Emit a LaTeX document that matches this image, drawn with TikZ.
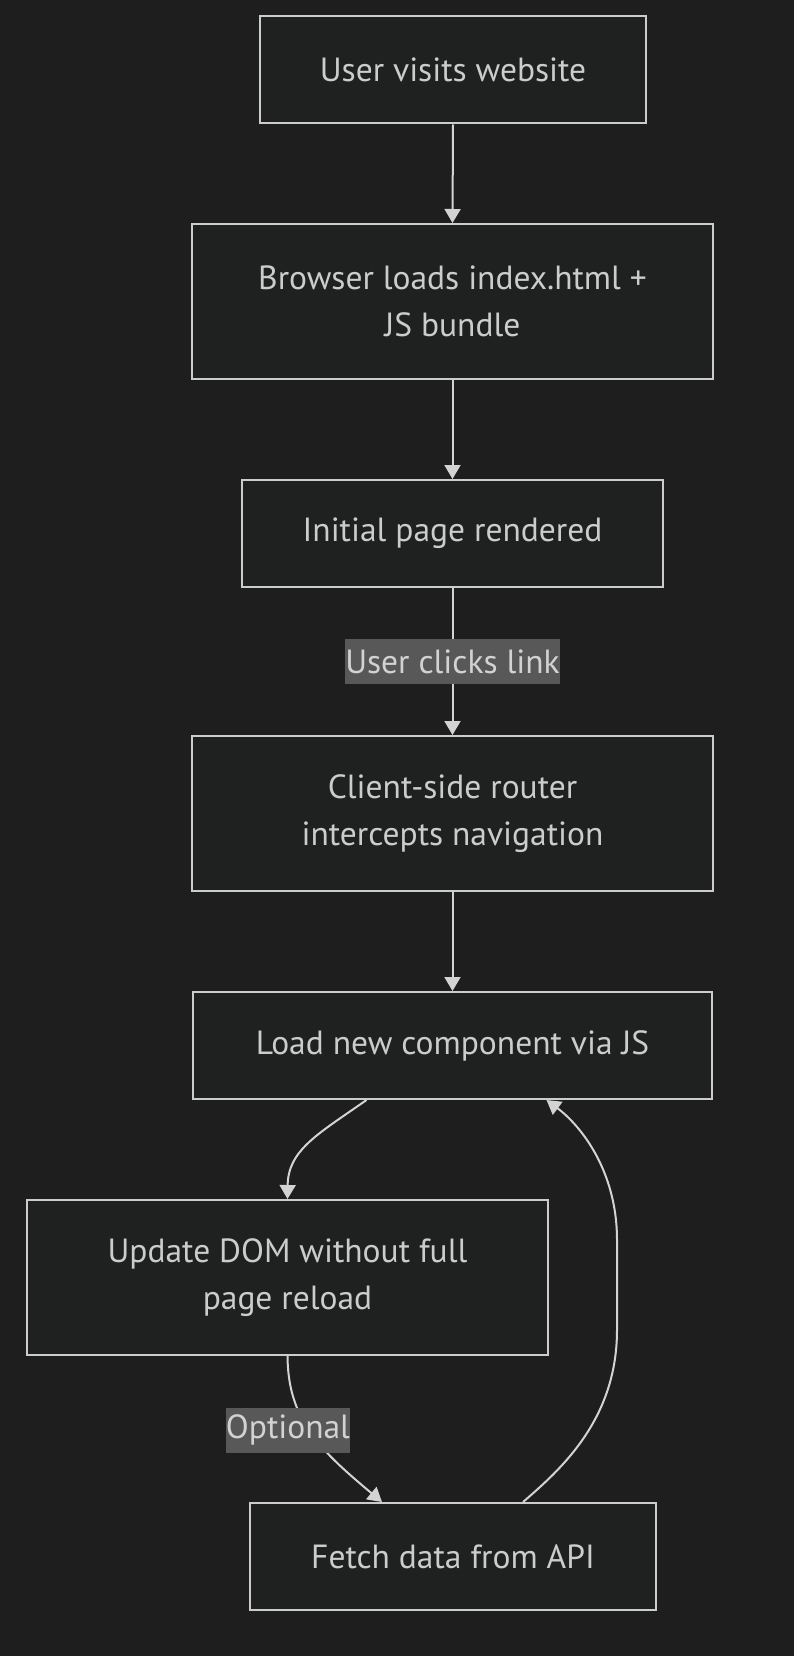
\documentclass[tikz,border=0pt]{standalone}
\usepackage{fontspec}
\setmainfont{PT Sans}
\usetikzlibrary{arrows.meta,positioning,calc}
\definecolor{canvas}{RGB}{30,30,30}
\definecolor{boxfill}{RGB}{31,32,32}
\definecolor{boxline}{RGB}{204,204,204}
\definecolor{edgeline}{RGB}{211,211,211}
\definecolor{labelbg}{RGB}{88,88,88}
\definecolor{labeltext}{RGB}{210,210,210}

\begin{document}
\begin{tikzpicture}[x=1pt, y=-1pt,
  stepbox/.style={draw=boxline, line width=2pt, fill=boxfill, text=boxline,
    align=center, minimum height=107pt, inner sep=0pt,
    font=\fontsize{33.5}{47.5}\selectfont},
  tallbox/.style={stepbox, minimum height=155pt},
  edgelabel/.style={fill=labelbg, text=labeltext, inner sep=0pt,
    minimum height=45pt, font=\fontsize{33.5}{40}\selectfont},
  flow/.style={draw=edgeline, line width=2pt, -{Triangle[width=16pt,length=14pt]}}]
% Background
\fill[canvas] (0,0) rectangle (794,1656);

% Main column
\node[stepbox, minimum width=386pt] (visit) at (453,70) {User visits website};
\node[tallbox, minimum width=521pt] (load) at (452.5,301.5) {Browser loads index.html +\\JS bundle};
\node[stepbox, minimum width=421pt] (render) at (452.5,533.5) {Initial page rendered};
\node[tallbox, minimum width=521pt] (router) at (452.5,813.5) {Client-side router\\intercepts navigation};
\node[stepbox, minimum width=519pt] (comp) at (452.5,1045.5) {Load new component via JS};

% Side branch
\node[tallbox, minimum width=521pt] (dom) at (287.5,1277.5) {Update DOM without full\\page reload};
\node[stepbox, minimum width=406pt] (fetch) at (453,1556.5) {Fetch data from API};

\draw[flow] (visit.south) -- (load.north);
\draw[flow] (load.south) -- (render.north);
\draw[flow] (render.south) -- node[edgelabel] {User clicks link} (router.north);
\draw[flow] (router.south) -- (comp.north);

\draw[flow] ([xshift=-86pt]comp.south) .. controls (318,1134) and (288,1150) .. (dom.north);
\draw[flow] (dom.south) .. controls (288,1420) and (320,1450) .. ([xshift=-71pt]fetch.north);
\draw[flow] ([xshift=70pt]fetch.north) .. controls (560,1470) and (617,1420) .. (617,1330)
  -- (617,1240) .. controls (617,1170) and (580,1125) .. ([xshift=94pt]comp.south);

\node[edgelabel] (opt) at (288,1430) {Optional};
\end{tikzpicture}
\end{document}
